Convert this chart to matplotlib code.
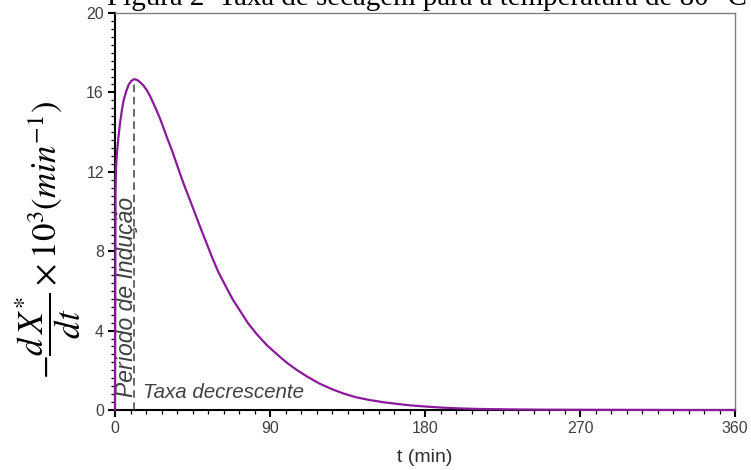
import matplotlib
matplotlib.use("Agg")
import matplotlib.pyplot as plt
from matplotlib.ticker import MultipleLocator

# ---- data ----
t_min = [0, 0.3, 0.6, 1, 1.5, 2, 3, 4, 5, 6.5, 8, 9.5, 11.2, 13, 14.5, 16.5,
         18.4, 20.3, 22.3, 24.2, 26.1, 28, 30, 32.9, 35, 37.7, 40.5, 43.5,
         46.5, 49.4, 52.5, 56.1, 60, 64.8, 68.5, 72.6, 77, 82.3, 88, 93.9,
         99.5, 105.5, 112, 119, 126, 133, 140, 148, 156, 164.5, 172, 181,
         190, 200, 210, 220, 235, 250, 270, 300, 330, 360]
rate = [0, 11.0, 12.2, 12.8, 13.3, 13.75, 14.5, 15.1, 15.6, 16.05, 16.4, 16.58,
        16.67, 16.62, 16.52, 16.35, 16.12, 15.82, 15.45, 15.08, 14.69, 14.25,
        13.77, 13.12, 12.6, 11.92, 11.25, 10.58, 9.9, 9.23, 8.55, 7.75, 6.95,
        6.15, 5.55, 5.0, 4.4, 3.82, 3.28, 2.82, 2.4, 2.02, 1.66, 1.32, 1.05,
        0.82, 0.64, 0.5, 0.39, 0.3, 0.23, 0.17, 0.12, 0.08, 0.055, 0.04, 0.025,
        0.015, 0.01, 0.005, 0.0, 0.0]
t_peak = 11.2
rate_peak = 16.67
x_ticks = [0, 90, 180, 270, 360]
y_ticks = [0, 4, 8, 12, 16, 20]

title = "Figura 2  Taxa de secagem para a temperatura de 80 °C"
label_induction = "Período de Indução"
label_falling = "Taxa decrescente"

W, H = 751, 470
fig = plt.figure(figsize=(W / 100, H / 100), dpi=100)
ax = fig.add_axes([115 / W, 1 - 410 / H, 620 / W, 397 / H])

ax.plot(t_min, rate, color="#8B1A9B", lw=1.6, zorder=5, clip_on=False,
        solid_joinstyle="round")
ax.vlines(t_peak, 0, rate_peak, colors="#404040", linestyles=(0, (5, 3)),
          lw=1.1, zorder=4)

ax.set_xlim(0, 360)
ax.set_ylim(0, 20)
ax.set_xticks(x_ticks)
ax.set_yticks(y_ticks)
ax.xaxis.set_minor_locator(MultipleLocator(9))
ax.yaxis.set_minor_locator(MultipleLocator(0.4))

for s in ("left", "bottom"):
    ax.spines[s].set_color("black")
    ax.spines[s].set_linewidth(1.5)
for s in ("top", "right"):
    ax.spines[s].set_color("#808080")
    ax.spines[s].set_linewidth(1.0)

ax.tick_params(which="both", direction="out", top=False, right=False,
               color="black", labelcolor="#404040")
ax.tick_params(which="major", length=5, width=1.5, labelsize=11.5, pad=3)
ax.tick_params(which="minor", length=3, width=0.9)
for lab in ax.get_xticklabels() + ax.get_yticklabels():
    lab.set_fontfamily("Liberation Sans")

ax.set_xlabel("t (min)", fontsize=14, family="Liberation Sans",
              color="#303030", labelpad=9)

plt.rcParams["mathtext.fontset"] = "stix"
fig.text(48 / W, 1 - 240 / H,
         r"$-\dfrac{d\,X^{*}}{dt}\times10^{3}\left(min^{-1}\right)$",
         rotation=90, ha="center", va="center", fontsize=25, color="black")

ax.text(6.4, 0.65, label_induction, rotation=90, ha="center", va="bottom",
        fontsize=16.5, style="italic", family="Liberation Sans", color="#404040")
ax.text(16.3, 0.6, label_falling, ha="left", va="baseline",
        fontsize=14.8, style="italic", family="Liberation Sans", color="#404040")

fig.text(107 / W, 1 - 5 / H, title, ha="left", va="baseline",
         fontsize=20.9, family="Liberation Serif", color="black")

fig.savefig("out.png", dpi=100)
